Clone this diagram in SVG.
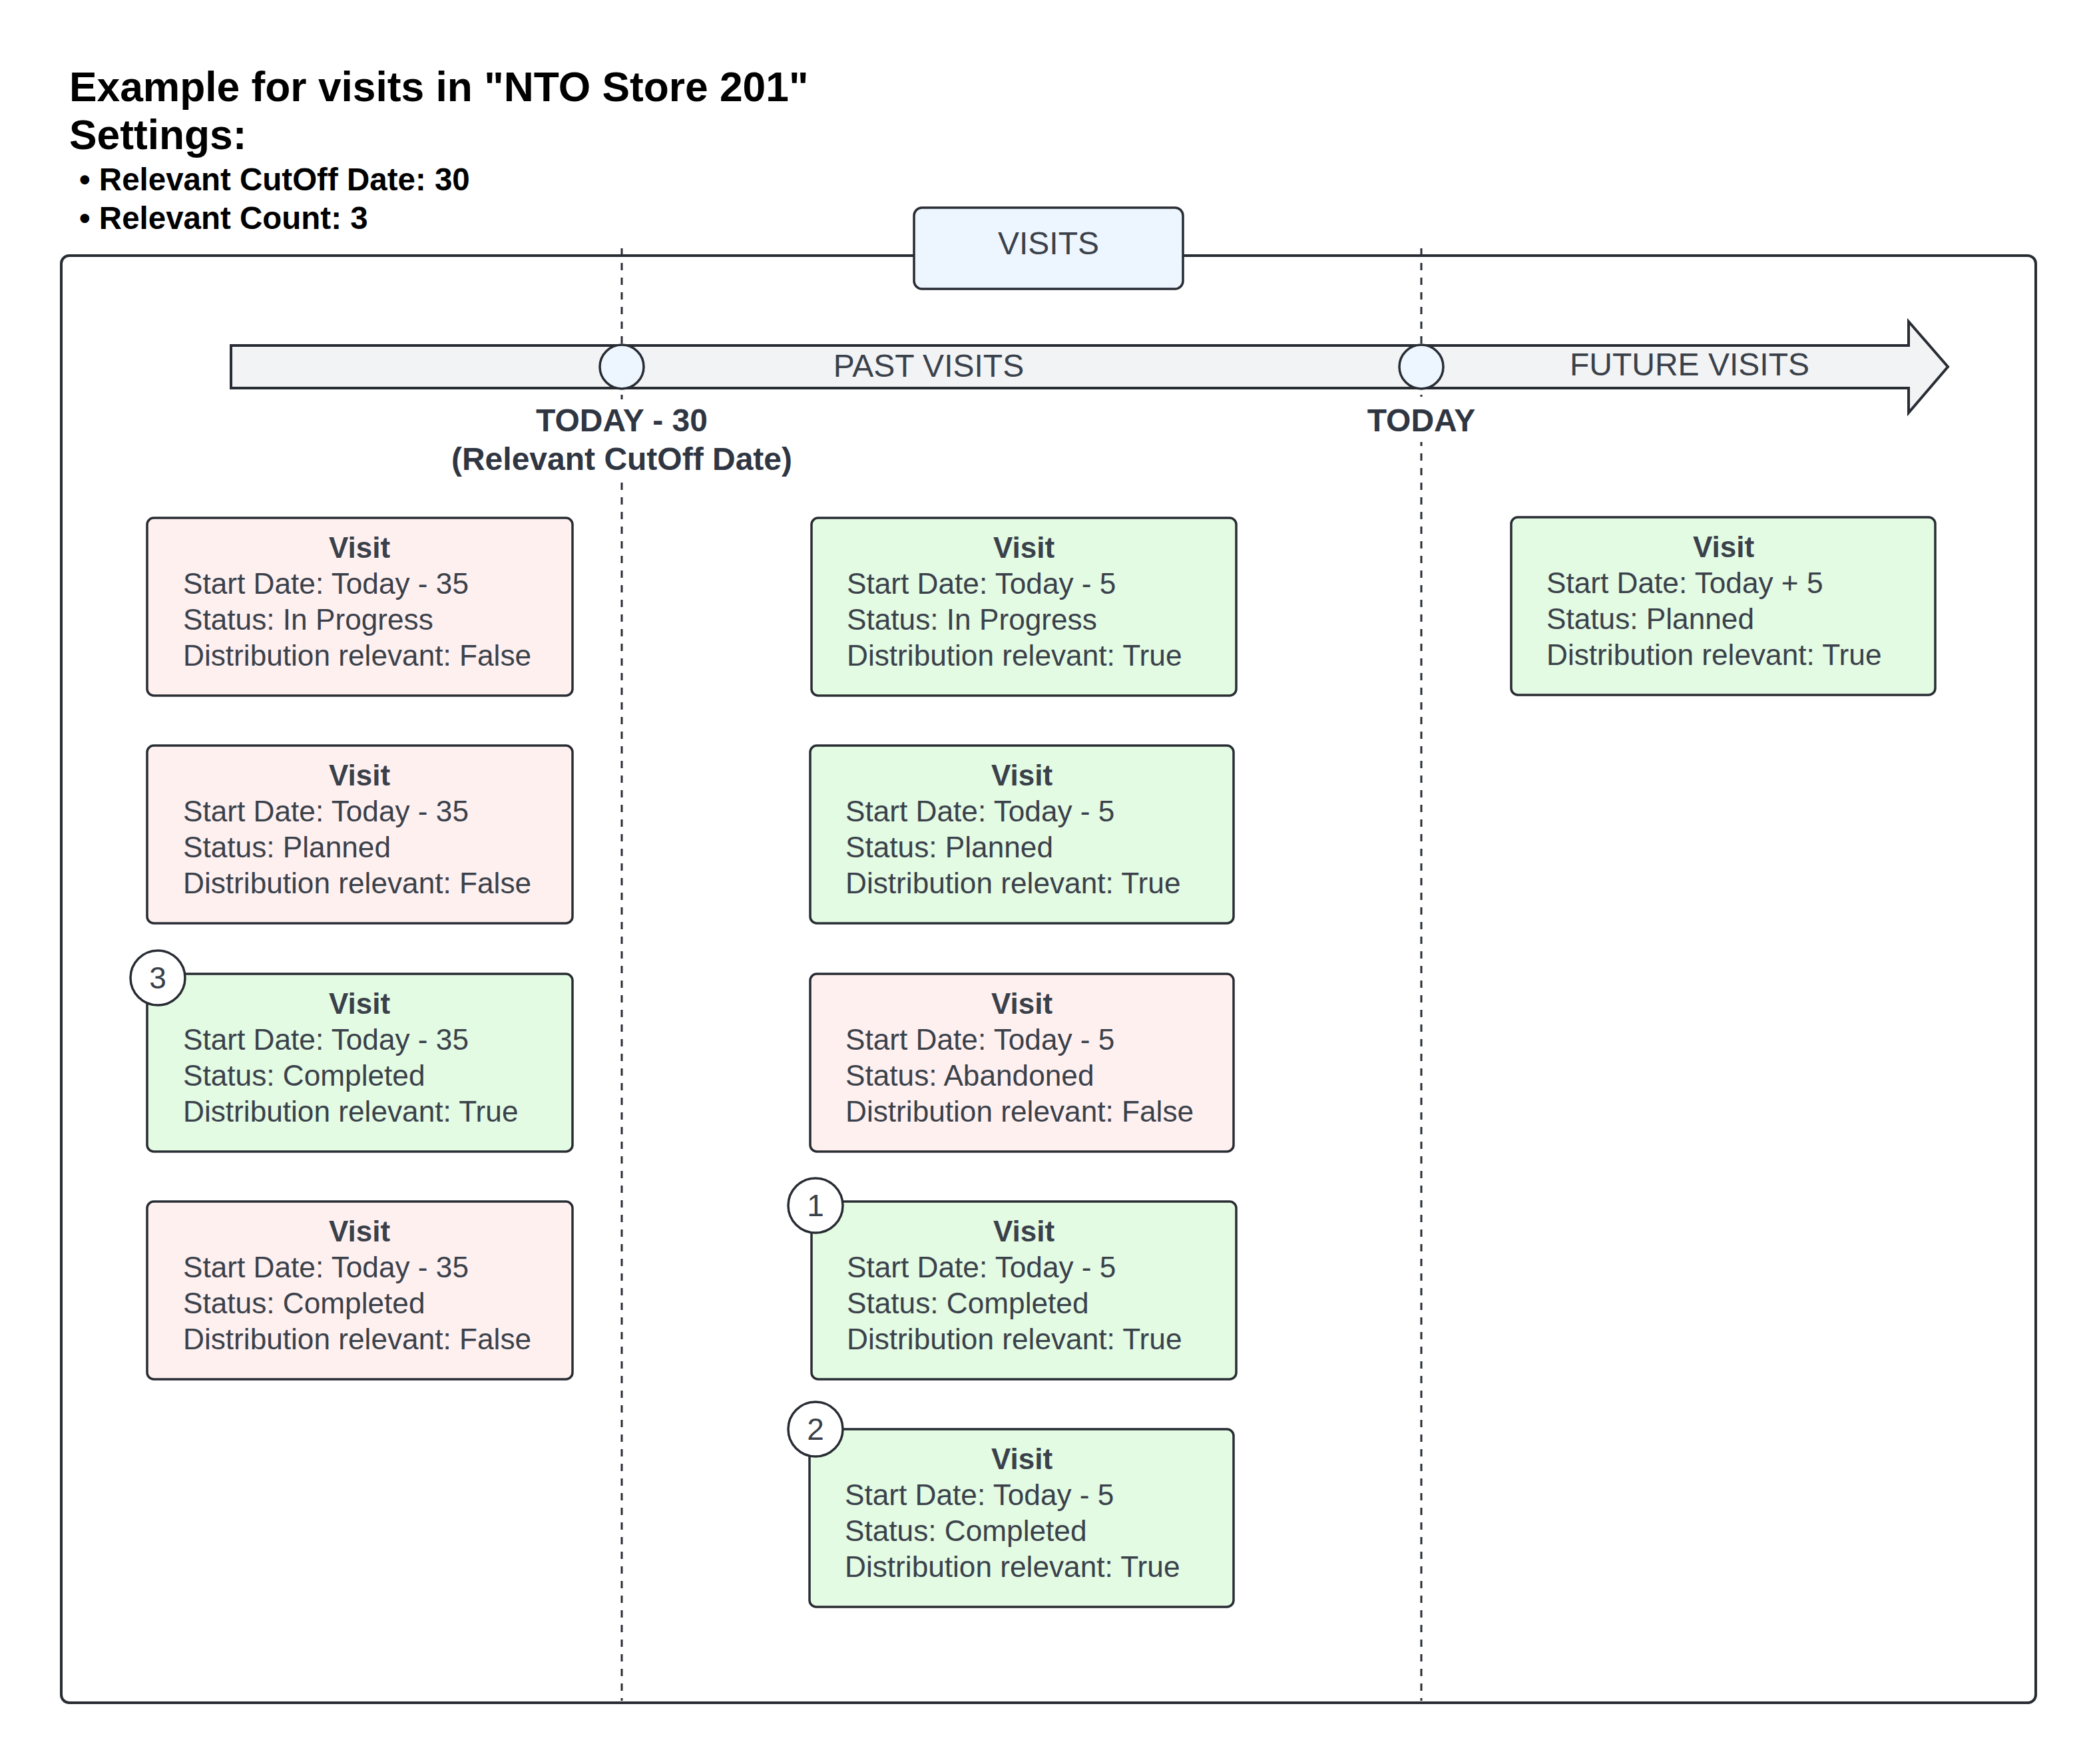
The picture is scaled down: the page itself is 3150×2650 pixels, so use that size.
<svg xmlns="http://www.w3.org/2000/svg" width="3150" height="2650" viewBox="0 0 3150 2650">
<style>
.t{font-family:"Liberation Sans",Arial,sans-serif}
.title{font-size:62.3px;font-weight:bold;fill:#000}
.bul{font-size:47.5px;font-weight:bold;fill:#000}
.lbl{font-size:48px;font-weight:bold;fill:#2f3642;text-anchor:middle}
.cap{font-size:48px;fill:#3a414a;text-anchor:middle}
.box{stroke:#282c33;stroke-width:3.5}
.red{fill:#fff0f0}
.green{fill:#e3fae3}
.hd{font-size:44px;font-weight:bold;fill:#3a414a;text-anchor:middle}
.ln{font-size:44.2px;fill:#3a414a}
.badge{fill:#fff;stroke:#282c33;stroke-width:3.5}
.bn{font-size:46px;fill:#3a414a;text-anchor:middle}
.dash{stroke:#282c33;stroke-width:3;stroke-dasharray:11 11;fill:none}
</style>
<rect width="3150" height="2650" fill="#fff"/>
<g id="header" class="t">
<text class="title" x="104" y="152">Example for visits in "NTO Store 201"</text>
<text class="title" x="104" y="224">Settings:</text>
<text class="bul" x="119" y="286">• Relevant CutOff Date: 30</text>
<text class="bul" x="119" y="344">• Relevant Count: 3</text>
</g>
<g id="container">
<rect x="92" y="384" width="2966" height="2174" rx="12" fill="none" stroke="#282c33" stroke-width="4"/>
</g>
<g id="connectors">
<line class="dash" x1="934" y1="373" x2="934" y2="2555"/>
<line class="dash" x1="2135" y1="373" x2="2135" y2="2555"/>
</g>
<g id="visits-label" class="t">
<rect x="1373" y="312" width="404" height="122" rx="12" fill="#edf5ff" stroke="#282c33" stroke-width="3.5"/>
<text class="cap" x="1575" y="382">VISITS</text>
</g>
<g id="timeline" class="t">
<polygon points="347,519 2867,519 2867,483 2926,551 2867,620 2867,583 347,583" fill="#f2f3f5" stroke="#282c33" stroke-width="4" stroke-linejoin="miter"/>
<text class="cap" x="1395" y="566">PAST VISITS</text>
<text class="cap" x="2538" y="564">FUTURE VISITS</text>
</g>
<g id="cutoff-marker" class="t">
<circle cx="934" cy="551" r="33" fill="#edf5ff" stroke="#282c33" stroke-width="3.5"/>
<rect x="665" y="600" width="538" height="125" fill="#fff"/>
<text class="lbl" x="934" y="648">TODAY - 30</text>
<text class="lbl" x="934" y="706">(Relevant CutOff Date)</text>
</g>
<g id="today-marker" class="t">
<circle cx="2135" cy="551" r="33" fill="#edf5ff" stroke="#282c33" stroke-width="3.5"/>
<rect x="2050" y="596" width="170" height="68" fill="#fff"/>
<text class="lbl" x="2135" y="648">TODAY</text>
</g>
<g id="visit-l1" class="t">
<rect class="box red" x="221" y="778" width="639" height="267" rx="10"/>
<text class="hd" x="540" y="838">Visit</text>
<text class="ln" x="275" y="892">Start Date: Today - 35</text>
<text class="ln" x="275" y="946">Status: In Progress</text>
<text class="ln" x="275" y="1000">Distribution relevant: False</text>
</g>
<g id="visit-l2" class="t">
<rect class="box red" x="221" y="1120" width="639" height="267" rx="10"/>
<text class="hd" x="540" y="1180">Visit</text>
<text class="ln" x="275" y="1234">Start Date: Today - 35</text>
<text class="ln" x="275" y="1288">Status: Planned</text>
<text class="ln" x="275" y="1342">Distribution relevant: False</text>
</g>
<g id="visit-l3" class="t">
<rect class="box green" x="221" y="1463" width="639" height="267" rx="10"/>
<text class="hd" x="540" y="1523">Visit</text>
<text class="ln" x="275" y="1577">Start Date: Today - 35</text>
<text class="ln" x="275" y="1631">Status: Completed</text>
<text class="ln" x="275" y="1685">Distribution relevant: True</text>
<circle class="badge" cx="237" cy="1469" r="41"/>
<text class="bn" x="237" y="1485">3</text>
</g>
<g id="visit-l4" class="t">
<rect class="box red" x="221" y="1805" width="639" height="267" rx="10"/>
<text class="hd" x="540" y="1865">Visit</text>
<text class="ln" x="275" y="1919">Start Date: Today - 35</text>
<text class="ln" x="275" y="1973">Status: Completed</text>
<text class="ln" x="275" y="2027">Distribution relevant: False</text>
</g>
<g id="visit-m1" class="t">
<rect class="box green" x="1219" y="778" width="638" height="267" rx="10"/>
<text class="hd" x="1538" y="838">Visit</text>
<text class="ln" x="1272" y="892">Start Date: Today - 5</text>
<text class="ln" x="1272" y="946">Status: In Progress</text>
<text class="ln" x="1272" y="1000">Distribution relevant: True</text>
</g>
<g id="visit-m2" class="t">
<rect class="box green" x="1217" y="1120" width="636" height="267" rx="10"/>
<text class="hd" x="1535" y="1180">Visit</text>
<text class="ln" x="1270" y="1234">Start Date: Today - 5</text>
<text class="ln" x="1270" y="1288">Status: Planned</text>
<text class="ln" x="1270" y="1342">Distribution relevant: True</text>
</g>
<g id="visit-m3" class="t">
<rect class="box red" x="1217" y="1463" width="636" height="267" rx="10"/>
<text class="hd" x="1535" y="1523">Visit</text>
<text class="ln" x="1270" y="1577">Start Date: Today - 5</text>
<text class="ln" x="1270" y="1631">Status: Abandoned</text>
<text class="ln" x="1270" y="1685">Distribution relevant: False</text>
</g>
<g id="visit-m4" class="t">
<rect class="box green" x="1219" y="1805" width="638" height="267" rx="10"/>
<text class="hd" x="1538" y="1865">Visit</text>
<text class="ln" x="1272" y="1919">Start Date: Today - 5</text>
<text class="ln" x="1272" y="1973">Status: Completed</text>
<text class="ln" x="1272" y="2027">Distribution relevant: True</text>
<circle class="badge" cx="1225" cy="1811" r="41"/>
<text class="bn" x="1225" y="1827">1</text>
</g>
<g id="visit-m5" class="t">
<rect class="box green" x="1216" y="2147" width="637" height="267" rx="10"/>
<text class="hd" x="1535" y="2207">Visit</text>
<text class="ln" x="1269" y="2261">Start Date: Today - 5</text>
<text class="ln" x="1269" y="2315">Status: Completed</text>
<text class="ln" x="1269" y="2369">Distribution relevant: True</text>
<circle class="badge" cx="1225" cy="2147" r="41"/>
<text class="bn" x="1225" y="2163">2</text>
</g>
<g id="visit-r1" class="t">
<rect class="box green" x="2270" y="777" width="637" height="267" rx="10"/>
<text class="hd" x="2589" y="837">Visit</text>
<text class="ln" x="2323" y="891">Start Date: Today + 5</text>
<text class="ln" x="2323" y="945">Status: Planned</text>
<text class="ln" x="2323" y="999">Distribution relevant: True</text>
</g>
</svg>
